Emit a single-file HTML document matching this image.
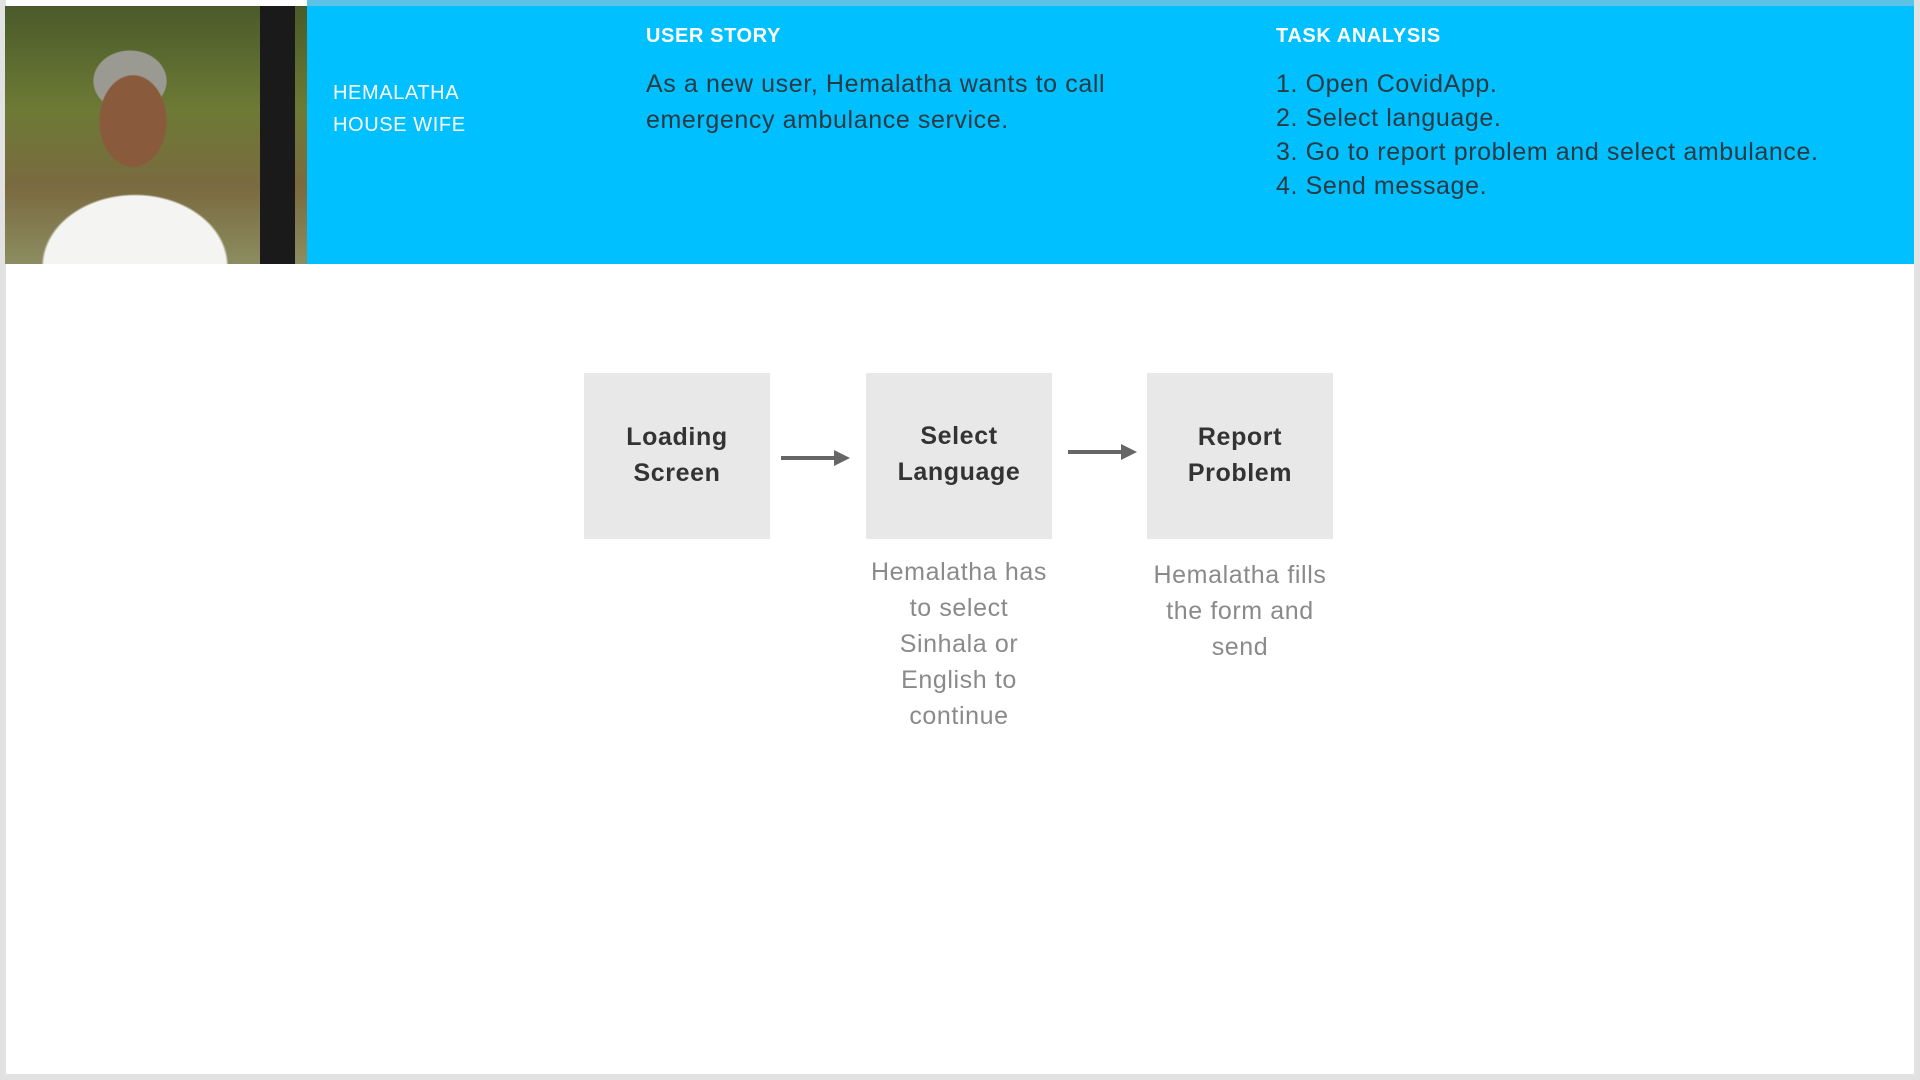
<!DOCTYPE html>
<html><head><meta charset="utf-8"><style>
*{margin:0;padding:0;box-sizing:border-box}
body{width:1920px;height:1080px;background:#e2e2e2;position:relative;overflow:hidden;font-family:"Liberation Sans",sans-serif;letter-spacing:0.6px}
.page{position:absolute;left:6px;top:0;width:1908px;height:1074px;background:#fff}
.strip{position:absolute;left:307px;top:0;width:1607px;height:6px;background:#5cc3e6}
.hdr{position:absolute;left:307px;top:6px;width:1607px;height:258px;background:#00c0ff}
.photo{position:absolute;left:5px;top:6px;width:302px;height:258px;background:
radial-gradient(ellipse 55px 75px at 128px 115px,#8a5a3c 60%,transparent 62%),
radial-gradient(ellipse 60px 50px at 125px 75px,#9a9a92 60%,transparent 62%),
radial-gradient(ellipse 130px 100px at 130px 260px,#f4f4f2 70%,transparent 72%),
linear-gradient(90deg,transparent 255px,#1a1a1a 255px,#1a1a1a 290px,transparent 290px),
linear-gradient(180deg,#4a5a2a 0,#6d7a35 40%,#7a6a40 70%,#8b8d60 100%)}
.t{position:absolute;color:#fff}
.box{position:absolute;top:373px;width:186px;height:166px;background:#e8e8e8;color:#333;font-weight:bold;font-size:25px;line-height:36px;text-align:center;display:flex;align-items:center;justify-content:center}
.cap{position:absolute;color:#8a8a8a;font-size:25px;line-height:36px;text-align:center;width:200px}
</style></head><body>
<div class="page"></div>
<div class="strip"></div>
<div class="photo"></div>
<div class="hdr"></div>
<div class="t" style="left:333px;top:77px;font-size:20px;line-height:32px;font-weight:500">HEMALATHA<br>HOUSE WIFE</div>
<div class="t" style="left:646px;top:25px;font-size:20px;font-weight:bold">USER STORY</div>
<div class="t" style="left:646px;top:66px;font-size:25px;line-height:36px;color:#2a3a44">As a new user, Hemalatha wants to call<br>emergency ambulance service.</div>
<div class="t" style="left:1276px;top:25px;font-size:20px;font-weight:bold">TASK ANALYSIS</div>
<div class="t" style="left:1276px;top:67px;font-size:25px;line-height:34px;color:#2a3a44">1. Open CovidApp.<br>2. Select language.<br>3. Go to report problem and select ambulance.<br>4. Send message.</div>
<div class="box" style="left:584px;padding-bottom:3px">Loading<br>Screen</div>
<div class="box" style="left:866px;padding-bottom:5px">Select<br>Language</div>
<div class="box" style="left:1147px;padding-bottom:3px">Report<br>Problem</div>
<svg style="position:absolute;left:0;top:0" width="1920" height="1080">
<line x1="781" y1="458" x2="836" y2="458" stroke="#666" stroke-width="4"/><polygon points="834,450 850,458 834,466" fill="#666"/>
<line x1="1068" y1="452" x2="1123" y2="452" stroke="#666" stroke-width="4"/><polygon points="1121,444 1137,452 1121,460" fill="#666"/>
</svg>
<div class="cap" style="left:859px;top:554px">Hemalatha has<br>to select<br>Sinhala or<br>English to<br>continue</div>
<div class="cap" style="left:1140px;top:557px">Hemalatha fills<br>the form and<br>send</div>
</body></html>
